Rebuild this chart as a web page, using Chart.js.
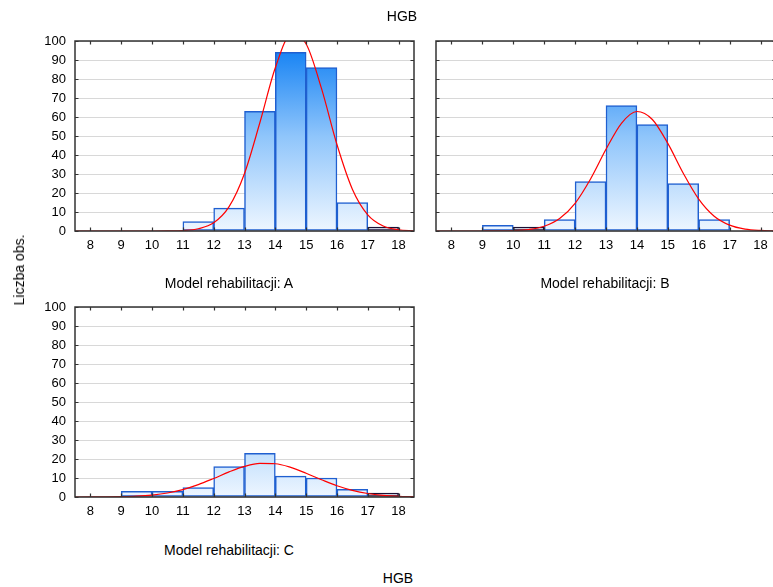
<!DOCTYPE html>
<html><head><meta charset="utf-8">
<script src="https://cdn.jsdelivr.net/npm/chart.js@4.4.1/dist/chart.umd.min.js"></script>
<style>
html,body{margin:0;padding:0;width:773px;height:587px;overflow:hidden;background:#fff;font-family:"Liberation Sans",Arial,sans-serif;}
canvas{position:absolute;}
.t{position:absolute;font-size:14px;color:#000;white-space:nowrap;transform:translate(-50%,-50%);line-height:1;}
.r{transform:translate(-50%,-50%) rotate(-90deg);}
</style></head><body>
<canvas id="cA" width="416" height="260" style="left:0;top:0"></canvas>
<canvas id="cB" width="360" height="260" style="left:420px;top:0"></canvas>
<canvas id="cC" width="416" height="260" style="left:0;top:266px"></canvas>
<div class="t" style="left:402px;top:16px">HGB</div>
<div class="t r" style="left:19px;top:270px">Liczba obs.</div>
<div class="t" style="left:229px;top:283px">Model rehabilitacji: A</div>
<div class="t" style="left:605px;top:283px">Model rehabilitacji: B</div>
<div class="t" style="left:229px;top:550px">Model rehabilitacji: C</div>
<div class="t" style="left:398px;top:578px">HGB</div>
<script>
// ---- data ----
const binCenters = [8.5, 9.5, 10.5, 11.5, 12.5, 13.5, 14.5, 15.5, 16.5, 17.5];
const countsA = [0, 0, 0, 5, 12, 63, 94, 86, 15, 2];
const countsB = [0, 3, 2, 6, 26, 66, 56, 25, 6, 0];
const countsC = [0, 3, 3, 5, 16, 23, 11, 10, 4, 2];
const curveX = [7.5, 8, 8.5, 9, 9.5, 10, 10.5, 11, 11.5, 12, 12.5, 13, 13.5, 14, 14.5, 15, 15.5, 16, 16.5, 17, 17.5, 18, 18.5];
const curveA = [0, 0, 0, 0, 0, 0, 0.05, 0.25, 1.2, 4.3, 12.8, 30.3, 57.1, 85.9, 103, 98.4, 74.9, 45.5, 22.0, 8.5, 2.6, 0.64, 0.12];
const curveB = [0, 0, 0, 0.01, 0.05, 0.21, 0.79, 2.5, 6.6, 14.6, 27.4, 43.0, 56.7, 62.9, 58.7, 46.1, 30.4, 16.8, 7.8, 3.1, 1.0, 0.28, 0.07];
const curveC = [0, 0.02, 0.06, 0.18, 0.45, 1.03, 2.1, 3.9, 6.5, 9.75, 13.2, 16.1, 17.65, 17.5, 15.6, 12.5, 9.1, 5.9, 3.5, 1.85, 0.88, 0.38, 0.15];
const xTicks = [8, 9, 10, 11, 12, 13, 14, 15, 16, 17, 18];
const yTicks = [0, 10, 20, 30, 40, 50, 60, 70, 80, 90, 100];

Chart.defaults.font.family = "'Liberation Sans', Arial, sans-serif";
Chart.defaults.font.size = 13;
Chart.defaults.color = '#000';

const boxPlugin = {
  id: 'box',
  afterDatasetsDraw(chart) {
    const {ctx, chartArea: a, scales: {x, y}} = chart;
    ctx.save();
    ctx.strokeStyle = '#333';
    ctx.lineWidth = 1.5;
    ctx.strokeRect(a.left, a.top, a.right - a.left, a.bottom - a.top);
    ctx.lineWidth = 1.2;
    ctx.beginPath();
    x.ticks.forEach(t => {
      const px = Math.round(x.getPixelForValue(t.value)) + 0.5;
      ctx.moveTo(px, a.top); ctx.lineTo(px, a.top + 3.5);
      ctx.moveTo(px, a.bottom); ctx.lineTo(px, a.bottom - 3.5);
    });
    y.ticks.forEach(t => {
      const py = Math.round(y.getPixelForValue(t.value)) + 0.5;
      ctx.moveTo(a.left, py); ctx.lineTo(a.left + 3.5, py);
      ctx.moveTo(a.right, py); ctx.lineTo(a.right - 3.5, py);
    });
    ctx.stroke();
    ctx.restore();
  }
};

function barFill(c) {
  const chart = c.chart;
  const a = chart.chartArea;
  if (!a) return '#8cc4ff';
  const g = chart.ctx.createLinearGradient(0, a.bottom, 0, a.top);
  g.addColorStop(0, '#eef6ff');
  g.addColorStop(0.5, '#8fc5fb');
  g.addColorStop(1, '#0a7cf3');
  return g;
}

function makeChart(id, counts, curve, yAxisWidth, showYLabels, padRight) {
  new Chart(document.getElementById(id), {
    type: 'bar',
    data: {
      datasets: [
        {
          type: 'line',
          data: curveX.map((v, i) => ({x: v, y: curve[i]})),
          borderColor: '#ff0000',
          borderWidth: 1.2,
          pointRadius: 0,
          cubicInterpolationMode: 'monotone',
          fill: false,
          order: 0
        },
        {
          type: 'bar',
          data: binCenters.map((v, i) => ({x: v, y: counts[i]})),
          backgroundColor: barFill,
          borderColor: c => (c.raw && c.raw.y > 0 && c.raw.y <= 2) ? '#1a1035' : '#1f5fd0',
          borderWidth: 1.5,
          borderSkipped: false,
          barPercentage: 1,
          categoryPercentage: 1,
          order: 1
        }
      ]
    },
    options: {
      responsive: false,
      animation: false,
      events: [],
      layout: {padding: {top: 41, right: padRight, left: 0, bottom: 0}},
      plugins: {legend: {display: false}, tooltip: {enabled: false}, title: {display: false}},
      scales: {
        x: {
          type: 'linear',
          min: 7.5, max: 18.5,
          offset: false,
          grid: {display: false, drawTicks: false},
          border: {display: false},
          afterBuildTicks: s => { s.ticks = xTicks.map(v => ({value: v})); },
          afterFit: s => { s.height = 29; },
          ticks: {padding: 7, maxRotation: 0, autoSkip: false, font: {size: 13}, color: '#000'}
        },
        y: {
          min: 0, max: 100,
          grid: {color: '#d8d8d8', lineWidth: 1, drawTicks: false},
          border: {display: false},
          afterBuildTicks: s => { s.ticks = yTicks.map(v => ({value: v})); },
          afterFit: s => { s.width = yAxisWidth; },
          ticks: {display: showYLabels, padding: 9, font: {size: 13}, color: '#000'}
        }
      }
    },
    plugins: [boxPlugin]
  });
}

makeChart('cA', countsA, curveA, 75, true, 2);
makeChart('cB', countsB, curveB, 16, false, 4);
makeChart('cC', countsC, curveC, 75, true, 2);
</script>
</body></html>
